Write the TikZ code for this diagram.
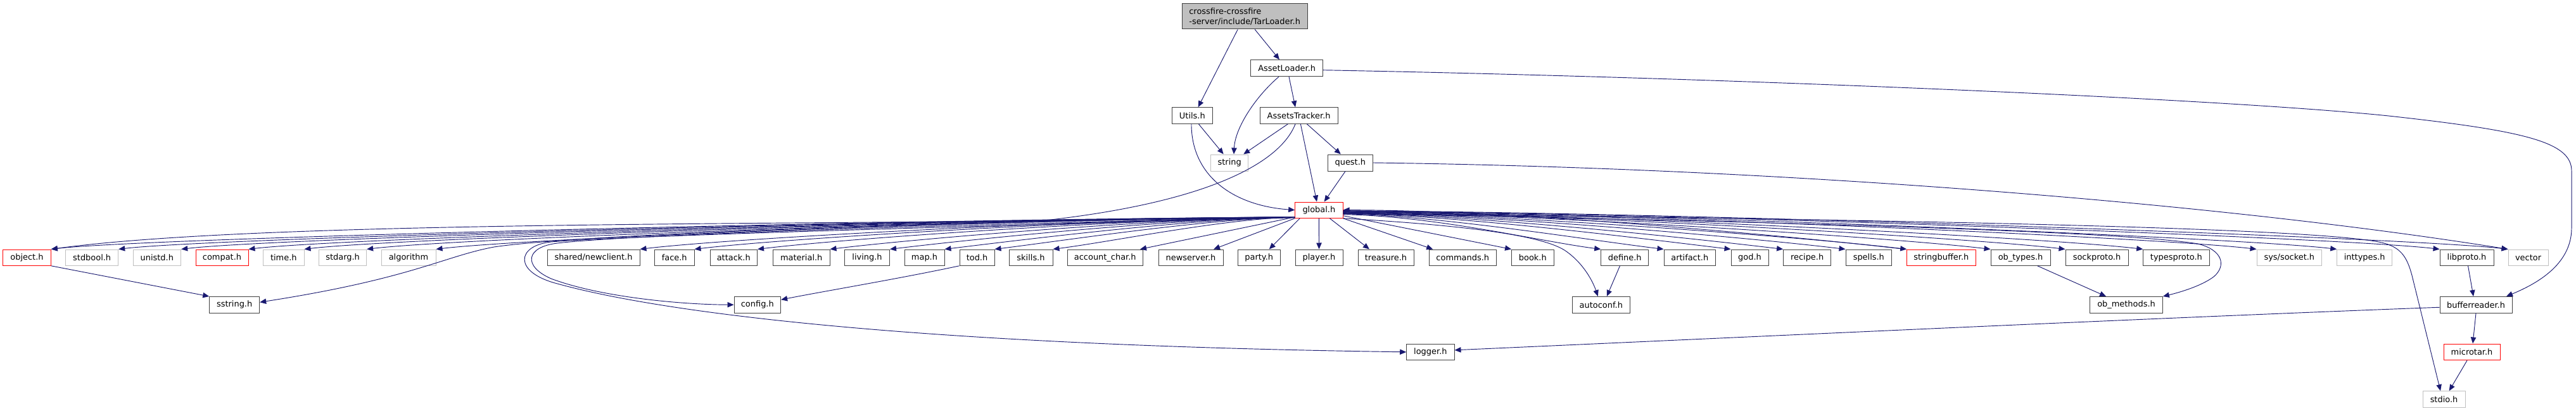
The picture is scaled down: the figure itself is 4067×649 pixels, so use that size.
\documentclass[tikz,border=0pt]{standalone}
\usepackage{fontspec}
\setmainfont{DejaVu Sans}
\usetikzlibrary{arrows.meta,calc}
\definecolor{edgec}{HTML}{191970}
\definecolor{redb}{HTML}{FF0000}
\definecolor{grayb}{HTML}{BFBFBF}
\definecolor{darkb}{HTML}{404040}
\definecolor{mainfill}{HTML}{BFBFBF}
\newcommand\mkbox[7]{\node[#1, minimum width={(#4-#3)*0.75pt}, minimum height={(#6-#5)*0.75pt}] (#2) at ({(#3+#4)/2},{(#5+#6)/2}) {#7};}
\begin{document}
\begin{tikzpicture}[x=0.75pt,y=-0.75pt,
  base/.style={draw, fill=white, line width=0.75pt, inner sep=0pt, text=black, font=\fontsize{9.7}{12}\selectfont},
  bk/.style={base, draw=darkb},
  rd/.style={base, draw=redb},
  gy/.style={base, draw=grayb},
  mainbox/.style={base, draw=darkb, fill=mainfill, align=left},
  edge/.style={draw=edgec, line width=0.7pt, -{Triangle[length=7.5pt,width=6.3pt]}}]
\useasboundingbox (0,0) rectangle (4067,649);
% row 0-2
\mkbox{mainbox}{main}{1866.3}{2064}{5.7}{46}{crossfire-crossfire\\-server/include/TarLoader.h}
\mkbox{bk}{al}{1974.7}{2088.7}{94.7}{120.7}{AssetLoader.h}
\mkbox{bk}{utils}{1850}{1914.7}{169.7}{195.3}{Utils.h}
\mkbox{bk}{at}{1989}{2112.3}{169.7}{195.3}{AssetsTracker.h}
\mkbox{gy}{string}{1911.7}{1970.7}{244}{270}{string}
\mkbox{bk}{quest}{2096.3}{2167.3}{244}{270}{quest.h}
\mkbox{rd}{global}{2044.7}{2120}{319}{344.3}{global.h}
% row 3
\mkbox{rd}{object}{4.7}{80.3}{394}{419.3}{object.h}
\mkbox{gy}{stdbool}{103.7}{186.7}{394}{419.3}{stdbool.h}
\mkbox{gy}{unistd}{210}{285.7}{394}{419.3}{unistd.h}
\mkbox{rd}{compat}{309}{392}{394}{419.3}{compat.h}
\mkbox{gy}{time}{415.6}{480}{394}{419.3}{time.h}
\mkbox{gy}{stdarg}{503.6}{578.6}{394}{419.3}{stdarg.h}
\mkbox{gy}{algorithm}{602}{688}{394}{419.3}{algorithm}
\mkbox{bk}{newclient}{864}{1010}{394}{419.3}{shared/newclient.h}
\mkbox{bk}{face}{1033.5}{1096}{394}{419.3}{face.h}
\mkbox{bk}{attack}{1121}{1195.5}{394}{419.3}{attack.h}
\mkbox{bk}{material}{1220.5}{1310}{394}{419.3}{material.h}
\mkbox{bk}{living}{1333.5}{1404.5}{394}{419.3}{living.h}
\mkbox{bk}{map}{1428}{1491}{394}{419.3}{map.h}
\mkbox{bk}{tod}{1515}{1570}{394}{419.3}{tod.h}
\mkbox{bk}{skills}{1593}{1662}{394}{419.3}{skills.h}
\mkbox{bk}{account}{1685}{1804.5}{394}{419.3}{account\_char.h}
\mkbox{bk}{newserver}{1829}{1931}{394}{419.3}{newserver.h}
\mkbox{bk}{party}{1954.5}{2021}{394}{419.3}{party.h}
\mkbox{bk}{player}{2045}{2120}{394}{419.3}{player.h}
\mkbox{bk}{treasure}{2144}{2232}{394}{419.3}{treasure.h}
\mkbox{bk}{commands}{2256}{2362.5}{394}{419.3}{commands.h}
\mkbox{bk}{book}{2386.6}{2453}{394}{419.3}{book.h}
\mkbox{bk}{define}{2527.7}{2602.7}{394}{419.3}{define.h}
\mkbox{bk}{artifact}{2627}{2708.5}{394}{419.3}{artifact.h}
\mkbox{bk}{god}{2733}{2792}{394}{419.3}{god.h}
\mkbox{bk}{recipe}{2815.6}{2890.6}{394}{419.3}{recipe.h}
\mkbox{bk}{spells}{2914}{2986.6}{394}{419.3}{spells.h}
\mkbox{rd}{stringbuffer}{3010.7}{3119}{394}{419.3}{stringbuffer.h}
\mkbox{bk}{obtypes}{3143}{3237}{394}{419.3}{ob\_types.h}
\mkbox{bk}{sockproto}{3261}{3360}{394}{419.3}{sockproto.h}
\mkbox{bk}{typesproto}{3383.7}{3488}{394}{419.3}{typesproto.h}
\mkbox{gy}{syssocket}{3563}{3665.6}{394}{419.3}{sys/socket.h}
\mkbox{gy}{inttypes}{3689.7}{3776.7}{394}{419.3}{inttypes.h}
\mkbox{bk}{libproto}{3852}{3937}{394}{419.3}{libproto.h}
\mkbox{gy}{vector}{3960}{4023}{394}{419.3}{vector}
% row 4
\mkbox{bk}{sstring}{330.7}{409.7}{468.5}{494}{sstring.h}
\mkbox{bk}{config}{1159}{1232.6}{468.5}{494}{config.h}
\mkbox{bk}{autoconf}{2482.3}{2573.3}{468.5}{494}{autoconf.h}
\mkbox{bk}{obmethods}{3299.7}{3414.3}{468.5}{494}{ob\_methods.h}
\mkbox{bk}{bufferreader}{3852}{3966}{468.5}{494}{bufferreader.h}
% row 5-6
\mkbox{bk}{logger}{2220.7}{2296}{543}{568.7}{logger.h}
\mkbox{rd}{microtar}{3858}{3947}{543}{568.7}{microtar.h}
\mkbox{gy}{stdio}{3825}{3892}{617.7}{643}{stdio.h}
% upper edges
\draw[edge] ($(main.south)+(-11,0)$) -- ($(utils.north)+(9.3,0)$);
\draw[edge] ($(main.south)+(16,0)$) -- ($(al.north)+(-11.7,0)$);
\draw[edge] ($(al.south)+(3.3,0)$) -- ($(at.north)+(-5.6,0)$);
\draw[edge] ($(al.south)+(-12.7,0)$) .. controls (1985,150) and (1950,200) .. ($(string.north)+(6.8,0)$);
\draw[edge] ($(al.east)+(0,3)$) .. controls (2700,122) and (3500,155) .. (3771,183) .. controls (3990,207) and (4060,225) .. (4060,270) -- (4060,360) .. controls (4060,420) and (4000,450) .. ($(bufferreader.north)+(48,0)$);
\draw[edge] ($(utils.south)+(10,0)$) -- ($(string.north)+(-9.5,0)$);
\draw[edge] ($(utils.south)+(-1.4,0)$) .. controls (1881,280) and (1950,325) .. (global.west);
\draw[edge] ($(at.south)+(-17.3,0)$) -- ($(string.north)+(22,0)$);
\draw[edge] ($(at.south)+(-5.6,0)$) .. controls (2020,260) and (1900,320) .. (1650,348) .. controls (1200,355) and (400,350) .. (object.north east);
\draw[edge] ($(at.south)+(2.7,0)$) -- ($(global.north)+(-3.4,0)$);
\draw[edge] ($(at.south)+(12.7,0)$) -- ($(quest.north)+(-15,0)$);
\draw[edge] ($(quest.south)+(-7.8,0)$) -- ($(global.north)+(8.3,0)$);
\draw[edge] (quest.east) .. controls (2800,265) and (3500,320) .. (vector.north west);
% global fan, left
\coordinate (gsw) at ($(global.south west)+(0,-2)$);
\draw[edge] (gsw) .. controls +(-590,3) and +(150,-18) .. (object.north east);
\draw[edge] (gsw) .. controls +(-557,3) and +(150,-18) .. (stdbool.north east);
\draw[edge] (gsw) .. controls +(-528,3) and +(150,-18) .. (unistd.north east);
\draw[edge] (gsw) .. controls +(-496,3) and +(150,-18) .. (compat.north east);
\draw[edge] (gsw) .. controls +(-470,3) and +(150,-18) .. (time.north east);
\draw[edge] (gsw) .. controls +(-440,3) and +(150,-18) .. (stdarg.north east);
\draw[edge] (gsw) .. controls +(-407,3) and +(150,-18) .. (algorithm.north east);
\draw[edge] (gsw) .. controls +(-310,3) and +(150,-18) .. (newclient.north east);
\draw[edge] (gsw) .. controls +(-285,3) and +(150,-18) .. (face.north east);
\draw[edge] (gsw) .. controls +(-255,3) and +(150,-18) .. (attack.north east);
\draw[edge] (gsw) .. controls +(-220,3) and +(150,-18) .. (material.north east);
\draw[edge] (gsw) .. controls +(-192,3) and +(150,-18) .. (living.north east);
\draw[edge] (gsw) .. controls +(-166,3) and +(140,-17) .. (map.north east);
\draw[edge] (gsw) .. controls +(-142,3) and +(120,-15) .. (tod.north east);
\draw[edge] (gsw) .. controls +(-115,3) and +(100,-13) .. (skills.north east);
\draw[edge] (gsw) -- ($(account.north east)+(-5,0)$);
\draw[edge] (global.south west) -- ($(newserver.north)+(36,0)$);
\draw[edge] ($(global.south west)+(8,0)$) -- ($(party.north)+(16,0)$);
\draw[edge] (global.south) -- (player.north);
\draw[edge] ($(global.south)+(17,0)$) -- ($(treasure.north)+(-26,0)$);
\draw[edge] (global.south east) -- ($(commands.north)+(-47,0)$);
% global fan, right
\draw[edge] ($(global.east)+(0,9)$) -- (book.north west);
\draw[edge] ($(global.east)+(0,7)$) .. controls +(150,3) and +(-100,-13) .. (define.north west);
\draw[edge] ($(global.east)+(0,6)$) .. controls +(152,3) and +(-130,-16) .. (artifact.north west);
\draw[edge] ($(global.east)+(0,5.5)$) .. controls +(184,3) and +(-150,-18) .. (god.north west);
\draw[edge] ($(global.east)+(0,5)$) .. controls +(209,3) and +(-150,-18) .. (recipe.north west);
\draw[edge] ($(global.east)+(0,4.5)$) .. controls +(238,3) and +(-150,-18) .. (spells.north west);
\draw[edge] ($(global.east)+(0,4)$) .. controls +(267,3) and +(-150,-18) .. (stringbuffer.north west);
\draw[edge] ($(global.east)+(0,3.5)$) .. controls +(307,3) and +(-150,-18) .. (obtypes.north west);
\draw[edge] ($(global.east)+(0,3)$) .. controls +(342,3) and +(-150,-18) .. (sockproto.north west);
\draw[edge] ($(global.east)+(0,3)$) .. controls +(379,3) and +(-150,-18) .. (typesproto.north west);
\draw[edge] ($(global.east)+(0,2.5)$) .. controls +(433,3) and +(-150,-18) .. (syssocket.north west);
\draw[edge] ($(global.east)+(0,2)$) .. controls +(471,3) and +(-150,-18) .. (inttypes.north west);
\draw[edge] ($(global.east)+(0,1.5)$) .. controls +(520,3) and +(-150,-18) .. (libproto.north west);
\draw[edge] ($(global.east)+(0,1)$) .. controls +(552,3) and +(-150,-18) .. (vector.north west);
\draw[edge] ($(stringbuffer.north west)+(-3,0)$) .. controls +(-150,-18) and +(267,0) .. (global.east);
% global special routes
\draw[edge] (gsw) .. controls (1400,352) and (900,372) .. (780,390) .. controls (700,405) and (650,440) .. ($(sstring.east)+(0,-4)$);
\draw[edge] (gsw) .. controls (1500,355) and (1000,370) .. (880,384) .. controls (830,390) and (825,420) .. (870,440) .. controls (950,470) and (1080,481) .. (config.west);
\draw[edge] ($(global.south west)+(0,-1)$) .. controls (1500,358) and (1000,372) .. (870,382) .. controls (815,388) and (810,430) .. (880,448) .. controls (1050,495) and (1450,545) .. (logger.west);
\draw[edge] (global.south east) .. controls (2300,355) and (2430,370) .. (2470,395) .. controls (2500,415) and (2515,445) .. ($(autoconf.north)+(-5,0)$);
\draw[edge] ($(global.east)+(0,6)$) .. controls (2900,345) and (3650,358) .. (3760,383) .. controls (3790,390) and (3800,405) .. (3808,435) -- ($(stdio.north)+(-5.5,0)$);
\draw[edge] ($(global.east)+(0,5)$) .. controls (2800,350) and (3350,365) .. (3470,385) .. controls (3510,395) and (3515,420) .. (3495,437) .. controls (3475,452) and (3440,462) .. (obmethods.north east);
% lower edges
\draw[edge] (tod.south west) .. controls (1420,440) and (1300,460) .. ($(config.east)+(0,-8)$);
\draw[edge] (object.south east) -- (sstring.north west);
\draw[edge] ($(define.south)+(-7.7,0)$) -- ($(autoconf.north)+(9,0)$);
\draw[edge] ($(obtypes.south)+(26.7,0)$) -- ($(obmethods.north)+(-32,0)$);
\draw[edge] ($(libproto.south)+(2,0)$) -- ($(bufferreader.north)+(-4,0)$);
\draw[edge] (bufferreader.south) -- ($(microtar.north)+(1.5,0)$);
\draw[edge] ($(microtar.south)+(-7.5,0)$) -- ($(stdio.north)+(8.2,0)$);
\draw[edge] ($(bufferreader.west)+(0,4)$) .. controls (3400,502) and (2700,535) .. ($(logger.east)+(0,-3)$);
\end{tikzpicture}
\end{document}
